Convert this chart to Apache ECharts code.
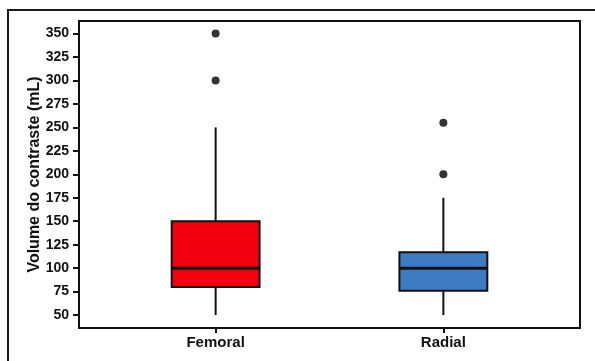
<!DOCTYPE html>
<html>
<head>
<meta charset="utf-8">
<script src="https://cdn.jsdelivr.net/npm/echarts@6/dist/echarts.min.js"></script>
<style>
html,body{margin:0;padding:0;background:#fff;}
#frame{position:absolute;left:7px;top:9px;width:590px;height:360px;border-top:2px solid #1a1a1a;border-left:2px solid #1a1a1a;}
#chart{position:absolute;left:0;top:0;width:595px;height:361px;}
</style>
</head>
<body>
<div id="frame"></div>
<div id="chart"></div>
<script>
const categories = ['Femoral', 'Radial'];
// [min, Q1, median, Q3, max]
const femoralBox = [50, 80, 100, 150, 250];
const radialBox = [50, 76, 100, 117, 175];
const femoralOutliers = [300, 350];
const radialOutliers = [200, 255];
const boxColors = ['#f2000f', '#3d7cc4'];
const yTicks = [50, 75, 100, 125, 150, 175, 200, 225, 250, 275, 300, 325, 350];
const yTitle = 'Volume do contraste (mL)';

const boxData = [[0].concat(femoralBox), [1].concat(radialBox)];
const outlierData = femoralOutliers.map(v => [0, v]).concat(radialOutliers.map(v => [1, v]));

const chart = echarts.init(document.getElementById('chart'), null, {renderer: 'canvas'});
const font = '"Liberation Sans", Arial, sans-serif';

chart.setOption({
  animation: false,
  backgroundColor: 'transparent',
  grid: {left: 79, right: 15, top: 21, bottom: 33, show: true, borderColor: '#111', borderWidth: 2, backgroundColor: '#fff'},
  xAxis: {
    type: 'value', min: -0.6, max: 1.6,
    splitLine: {show: false},
    axisLine: {show: true, onZero: false, lineStyle: {color: '#111', width: 2}},
    axisTick: {show: true, length: 5, lineStyle: {color: '#111', width: 2}, customValues: [0, 1]},
    axisLabel: {customValues: [0, 1], formatter: v => categories[Math.round(v)], color: '#111', fontFamily: font, fontSize: 15, fontWeight: 'bold', margin: 7}
  },
  yAxis: {
    type: 'value', min: 36.2, max: 363.4,
    name: yTitle, nameLocation: 'middle', nameGap: 36, nameMoveOverlap: false,
    nameTextStyle: {color: '#111', fontFamily: font, fontSize: 16, fontWeight: 'bold'},
    splitLine: {show: false},
    axisLine: {show: true, onZero: false, lineStyle: {color: '#111', width: 2}},
    axisTick: {show: true, length: 6, lineStyle: {color: '#111', width: 2}, customValues: yTicks},
    axisLabel: {customValues: yTicks, color: '#111', fontFamily: font, fontSize: 14, fontWeight: 'bold', margin: 10}
  },
  series: [
    {
      type: 'custom',
      data: boxData,
      encode: {x: 0, y: [1, 2, 3, 4, 5]},
      renderItem: function (params, api) {
        const c = api.value(0);
        const pMin = api.coord([c, api.value(1)]);
        const pQ1 = api.coord([c, api.value(2)]);
        const pMed = api.coord([c, api.value(3)]);
        const pQ3 = api.coord([c, api.value(4)]);
        const pMax = api.coord([c, api.value(5)]);
        const w = api.size([0.386, 0])[0];
        const x0 = pMed[0] - w / 2;
        const stroke = {stroke: '#111', lineWidth: 2};
        return {
          type: 'group',
          children: [
            {type: 'line', shape: {x1: pMed[0], y1: pQ3[1], x2: pMed[0], y2: pMax[1]}, style: stroke},
            {type: 'line', shape: {x1: pMed[0], y1: pQ1[1], x2: pMed[0], y2: pMin[1]}, style: stroke},
            {type: 'rect', shape: {x: x0, y: pQ3[1], width: w, height: pQ1[1] - pQ3[1]}, style: {fill: boxColors[c], stroke: '#111', lineWidth: 2}},
            {type: 'line', shape: {x1: x0, y1: pMed[1], x2: x0 + w, y2: pMed[1]}, style: {stroke: '#111', lineWidth: 3}}
          ]
        };
      }
    },
    {
      type: 'scatter',
      data: outlierData,
      symbol: 'circle',
      symbolSize: 8,
      itemStyle: {color: '#000'}
    }
  ]
});
</script>
</body>
</html>
